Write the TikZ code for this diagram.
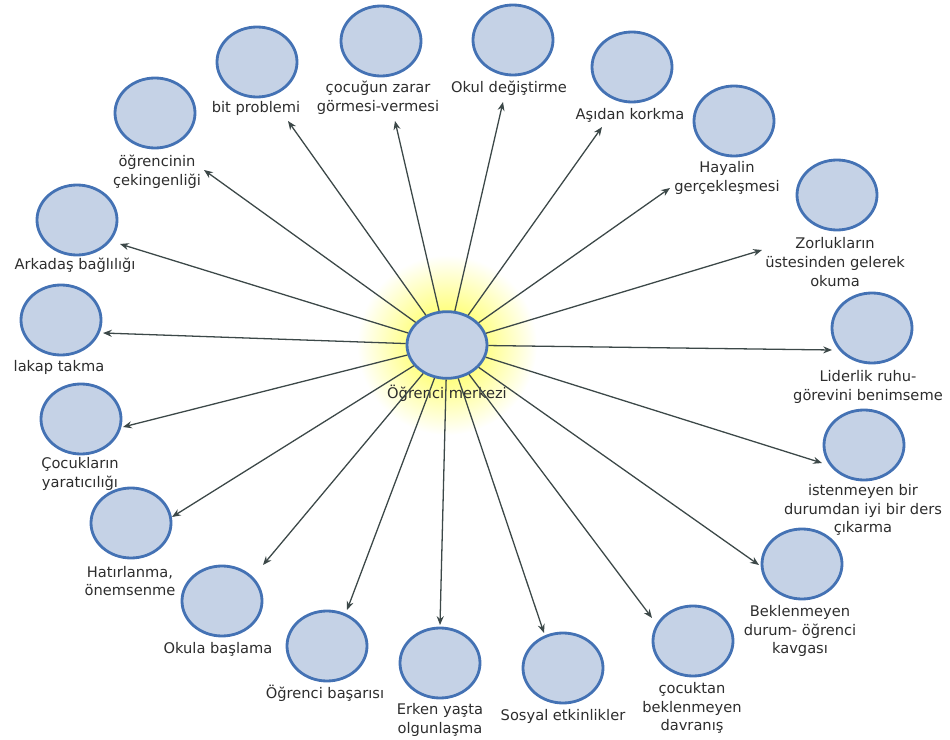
\documentclass[tikz,border=0pt]{standalone}
\usepackage{fontspec}
\setmainfont{DejaVu Sans}
\usetikzlibrary{shapes.geometric, arrows.meta}
\definecolor{bubblefill}{RGB}{197,210,230}
\definecolor{bubbleline}{RGB}{68,114,180}
\definecolor{linkgray}{RGB}{60,72,72}
\definecolor{textgray}{RGB}{45,45,45}
\tikzstyle{topic} = [ellipse, draw = bubbleline, fill = bubblefill, line width = 2.4pt, inner sep = 0pt, minimum width = 2.4cm, minimum height = 2.1cm]
\tikzstyle{hub} = [topic, minimum height = 2.0cm]
\tikzstyle{topictext} = [text = textgray, align = center, font = \fontsize{12.5}{16}\selectfont, inner sep = 0pt]
\tikzstyle{link} = [-{Stealth[length = 7.5pt, width = 6pt]}, draw = linkgray, line width = 1.1pt]

\begin{document}
\begin{tikzpicture}[x = 0.03cm, y = -0.03cm]
    \useasboundingbox (0, 0) rectangle (950, 740);
    \shade [inner color = yellow!80, outer color = white] (447, 345) circle [radius = 2.7cm];

    \node (C) at (447, 345) [hub] {};
    \node (Ct) at (447, 393) [topictext] {Öğrenci merkezi};

    \node (bit) at (257, 62) [topic] {};
    \node (bitt) at (256, 108) [topictext] {bit problemi};
    \node (zarar) at (381, 41) [topic] {};
    \node (zarart) at (378, 98) [topictext] {çocuğun zarar\\görmesi-vermesi};
    \node (okul) at (513, 40) [topic] {};
    \node (okult) at (509, 88) [topictext] {Okul değiştirme};
    \node (asi) at (632, 67) [topic] {};
    \node (asit) at (630, 115) [topictext] {Aşıdan korkma};
    \node (hayal) at (734, 121) [topic] {};
    \node (hayalt) at (727, 178) [topictext] {Hayalin\\gerçekleşmesi};
    \node (zor) at (837, 195) [topic] {};
    \node (zort) at (835, 262) [topictext] {Zorlukların\\üstesinden gelerek\\okuma};
    \node (lider) at (872, 328) [topic] {};
    \node (lidert) at (868, 387) [topictext] {Liderlik ruhu-\\görevini benimseme};
    \node (ders) at (864, 445) [topic] {};
    \node (derst) at (863, 510) [topictext] {istenmeyen bir\\durumdan iyi bir ders\\çıkarma};
    \node (kavga) at (802, 564) [topic] {};
    \node (kavgat) at (800, 631) [topictext] {Beklenmeyen\\durum- öğrenci\\kavgası};
    \node (davr) at (693, 641) [topic] {};
    \node (davrt) at (692, 708) [topictext] {çocuktan\\beklenmeyen\\davranış};
    \node (sosyal) at (563, 668) [topic] {};
    \node (sosyalt) at (563, 716) [topictext] {Sosyal etkinlikler};
    \node (erken) at (440, 663) [topic] {};
    \node (erkent) at (440, 720) [topictext] {Erken yaşta\\olgunlaşma};
    \node (basari) at (327, 646) [topic] {};
    \node (basarit) at (325, 693) [topictext] {Öğrenci başarısı};
    \node (okula) at (222, 601) [topic] {};
    \node (okulat) at (218, 649) [topictext] {Okula başlama};
    \node (hatir) at (131, 523) [topic] {};
    \node (hatirt) at (130, 581) [topictext] {Hatırlanma,\\önemsenme};
    \node (yarat) at (81, 419) [topic] {};
    \node (yaratt) at (80, 474) [topictext] {Çocukların\\yaratıcılığı};
    \node (lakap) at (61, 320) [topic] {};
    \node (lakapt) at (59, 367) [topictext] {lakap takma};
    \node (arka) at (77, 220) [topic] {};
    \node (arkat) at (75, 265) [topictext] {Arkadaş bağlılığı};
    \node (cek) at (155, 113) [topic] {};
    \node (cekt) at (157, 172) [topictext] {öğrencinin\\çekingenliği};

    % arrow ends
    \coordinate (bite) at (288, 121);
    \coordinate (zarare) at (395, 121);
    \coordinate (okule) at (503, 102);
    \coordinate (asie) at (602, 127);
    \coordinate (hayale) at (670, 188);
    \coordinate (zore) at (762, 250);
    \coordinate (lidere) at (832, 350);
    \coordinate (derse) at (822, 463);
    \coordinate (kavgae) at (759, 565);
    \coordinate (davre) at (652, 618);
    \coordinate (sosyale) at (544, 633);
    \coordinate (erkene) at (440, 625);
    \coordinate (basarie) at (347, 610);
    \coordinate (okulae) at (263, 565);
    \coordinate (hatire) at (172, 517);
    \coordinate (yarate) at (123, 427);
    \coordinate (lakape) at (103, 333);
    \coordinate (arkae) at (120, 244);
    \coordinate (ceke) at (204, 170);

    \draw [link] (C) -- (bite);
    \draw [link] (C) -- (zarare);
    \draw [link] (C) -- (okule);
    \draw [link] (C) -- (asie);
    \draw [link] (C) -- (hayale);
    \draw [link] (C) -- (zore);
    \draw [link] (C) -- (lidere);
    \draw [link] (C) -- (derse);
    \draw [link] (C) -- (kavgae);
    \draw [link] (C) -- (davre);
    \draw [link] (C) -- (sosyale);
    \draw [link] (C) -- (erkene);
    \draw [link] (C) -- (basarie);
    \draw [link] (C) -- (okulae);
    \draw [link] (C) -- (hatire);
    \draw [link] (C) -- (yarate);
    \draw [link] (C) -- (lakape);
    \draw [link] (C) -- (arkae);
    \draw [link] (C) -- (ceke);
\end{tikzpicture}
\end{document}
